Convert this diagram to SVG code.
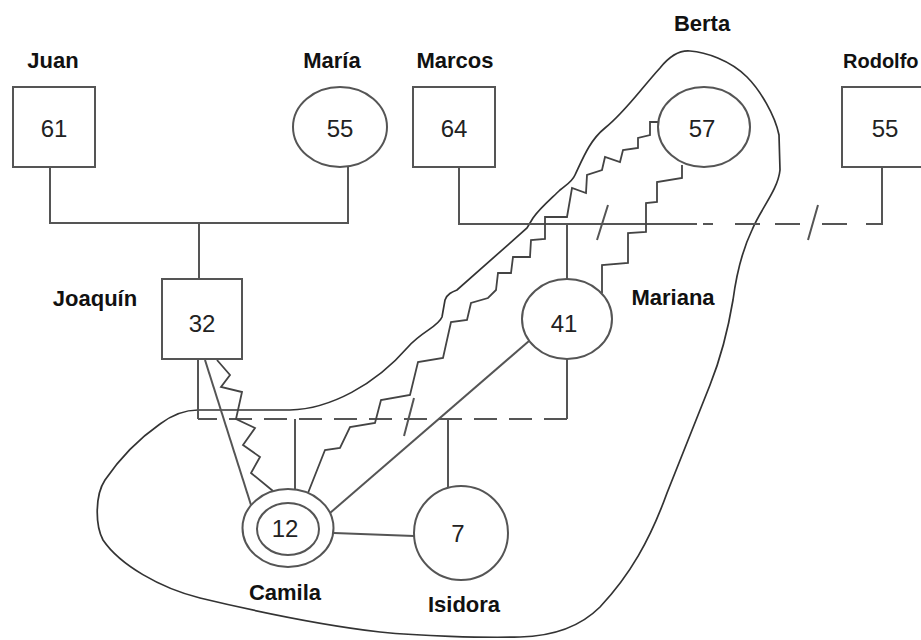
<svg xmlns="http://www.w3.org/2000/svg" width="921" height="640" viewBox="0 0 921 640">
<style>
.bg{fill:#fff}
.node{fill:#fff;stroke:#555;stroke-width:2}
.ln{fill:none;stroke:#555;stroke-width:2}
.zz{fill:none;stroke:#444;stroke-width:1.8;stroke-linejoin:miter}
.dash{fill:none;stroke:#555;stroke-width:2;stroke-dasharray:23 12}
.blob{fill:none;stroke:#333;stroke-width:1.7}
.num{font-family:"Liberation Sans Narrow","Liberation Sans",Arial,sans-serif;font-size:24px;fill:#222;text-anchor:middle}
.lbl{font-family:"Liberation Sans",Arial,sans-serif;font-size:22px;font-weight:bold;fill:#111;text-anchor:middle}
</style>
<rect class="bg" x="0" y="0" width="921" height="640"/>

<g id="blob">
<path class="blob" d="M198,410 H290 C330,409 375,385 408,347 C422,331 438,327 442,317 L445,300 C447,294 452,292 457,290 L527,228 L533,218 C540,208 552,198 560,190 C566,185 572,182 575,175 C583,158 590,140 605,128 C625,112 640,90 660,68 C668,58 678,50 690,51 C705,52 730,60 747,77 C760,90 775,115 779,135 L780,170 C778,190 760,210 752,230 C740,255 735,285 733,300 C728,330 720,360 710,385 L667,493 C650,540 630,575 600,607 C585,622 560,636 520,637 C480,638 420,636 380,632 C320,625 250,610 200,598 C160,588 120,565 103,540 C95,525 95,495 105,480 C120,458 140,438 160,424 C172,415 185,410 198,410 Z"/>
</g>

<g id="connectors">
<path class="ln" d="M50,167 V223 H348 V167 M199,223 V279"/>
<path class="ln" d="M459,167 V224 H697 M703,224 H713 M735,224 H760 M775,224 H800 M822,224 H847 M866,224 H882 V167"/>
<path class="ln" d="M608,205 L597,240 M818,205 L808,240"/>
<path class="ln" d="M567,224 V279"/>
<path class="ln" d="M198,359 V419 M567,358 V419"/>
<path class="dash" d="M567,419 H198"/>
<path class="ln" d="M414,398 L404,436"/>
<path class="ln" d="M295,419 V490 M448,419 V488"/>
<path class="ln" d="M334,533 L414,536"/>
<path class="ln" d="M330,513 L529,341"/>
<path class="ln" d="M205,360 L251,505"/>
<polyline class="zz" points="217,360 230,375 221,387 242,392 236,419 255,428 243,445 260,457 251,473 273,491"/>
<polyline class="zz" points="658,122 650,122 650,135 638,138 638,148 623,150 620,162 605,157 602,170 587,175 586,193 572,188 567,217 545,217 545,239 531,240 530,257 513,257 511,273 498,273 496,290 488,298 471,303 467,320 451,322 443,358 418,362 410,395 381,400 375,423 350,427 340,448 325,450 308,493"/>
<polyline class="zz" points="682,165 682,178 657,182 657,202 646,203 646,232 628,233 628,263 602,265 602,293"/>
</g>

<g id="juan">
<rect class="node" x="13" y="87" width="82" height="80"/>
<text class="num" x="54" y="137">61</text>
<text class="lbl" x="53" y="68">Juan</text>
</g>
<g id="maria">
<ellipse class="node" cx="340" cy="127" rx="47" ry="40"/>
<text class="num" x="340" y="137">55</text>
<text class="lbl" x="332" y="68">María</text>
</g>
<g id="marcos">
<rect class="node" x="413" y="87" width="82" height="80"/>
<text class="num" x="454" y="137">64</text>
<text class="lbl" x="455" y="68">Marcos</text>
</g>
<g id="berta">
<ellipse class="node" cx="704" cy="127" rx="46" ry="40"/>
<text class="num" x="702" y="137">57</text>
<text class="lbl" x="702" y="31">Berta</text>
</g>
<g id="rodolfo">
<rect class="node" x="842" y="87" width="82" height="80"/>
<text class="num" x="885" y="137">55</text>
<text class="lbl" x="843" y="68" style="text-anchor:start;font-size:20px">Rodolfo</text>
</g>
<g id="joaquin">
<rect class="node" x="162" y="279" width="80" height="80"/>
<text class="num" x="202" y="332">32</text>
<text class="lbl" x="95" y="306">Joaquín</text>
</g>
<g id="mariana">
<ellipse class="node" cx="567" cy="319" rx="45" ry="40"/>
<text class="num" x="564" y="332">41</text>
<text class="lbl" x="673" y="305">Mariana</text>
</g>
<g id="camila">
<ellipse class="node" cx="288" cy="528" rx="45.5" ry="39"/>
<ellipse class="node" cx="288" cy="529" rx="31" ry="26"/>
<text class="num" x="285" y="537">12</text>
<text class="lbl" x="285" y="600">Camila</text>
</g>
<g id="isidora">
<circle class="node" cx="461" cy="533" r="47"/>
<text class="num" x="458" y="542">7</text>
<text class="lbl" x="464" y="612">Isidora</text>
</g>
</svg>
